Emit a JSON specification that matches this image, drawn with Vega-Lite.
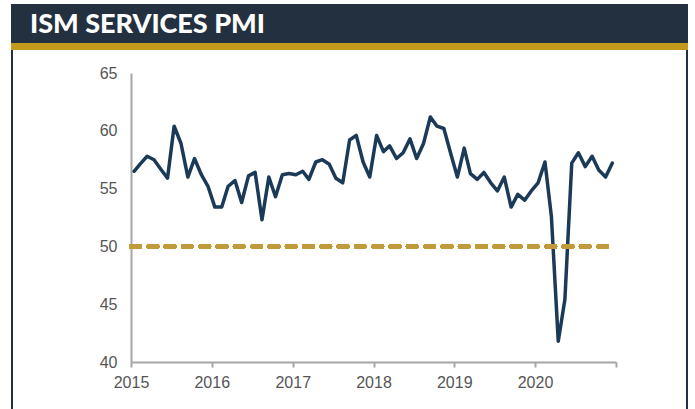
{
  "$schema": "https://vega.github.io/schema/vega-lite/v6.json",
  "padding": {"left": 11, "top": 4, "right": 0, "bottom": 0},
  "background": "white",
  "spacing": 0,
  "config": {"view": {"stroke": null}, "concat": {"spacing": 0}, "font": "Liberation Sans"},
  "vconcat": [
    {
      "data": {"values": [{"label": "ISM SERVICES PMI", "pos": 0}]},
      "mark": {"type": "text", "align": "left", "baseline": "middle", "dx": 19, "dy": 1, "color": "#ffffff", "font": "Lato", "fontSize": 27, "fontWeight": 900},
      "encoding": {
        "text": {"field": "label"},
        "x": {"field": "pos", "type": "quantitative", "scale": {"domain": [0, 1]}, "axis": null}
      },
      "width": 677,
      "height": 39,
      "view": {"fill": "#223040", "stroke": null}
    },
    {
      "data": {"values": []},
      "mark": "point",
      "width": 677,
      "height": 7,
      "view": {"fill": "#c49a1c", "stroke": null}
    },
    {
      "spacing": 0,
      "hconcat": [
        {"data": {"values": []}, "mark": "point", "width": 2, "height": 359, "view": {"fill": "#223040", "stroke": null}},
        {"data": {"values": []}, "mark": "point", "width": 86, "height": 1},
        {
          "spacing": 0,
          "vconcat": [
            {"data": {"values": []}, "mark": "point", "width": 1, "height": 15},
            {
              "width": 485,
              "height": 289,
              "data": {"values": [
                {"date": "2015-01-15", "pmi": 56.5}, {"date": "2015-02-15", "pmi": 57.2}, {"date": "2015-03-15", "pmi": 57.8}, {"date": "2015-04-15", "pmi": 57.5},
                {"date": "2015-05-15", "pmi": 56.7}, {"date": "2015-06-15", "pmi": 55.9}, {"date": "2015-07-15", "pmi": 60.4}, {"date": "2015-08-15", "pmi": 58.9},
                {"date": "2015-09-15", "pmi": 56.0}, {"date": "2015-10-15", "pmi": 57.6}, {"date": "2015-11-15", "pmi": 56.2}, {"date": "2015-12-15", "pmi": 55.2},
                {"date": "2016-01-15", "pmi": 53.4}, {"date": "2016-02-15", "pmi": 53.4}, {"date": "2016-03-15", "pmi": 55.2}, {"date": "2016-04-15", "pmi": 55.7},
                {"date": "2016-05-15", "pmi": 53.8}, {"date": "2016-06-15", "pmi": 56.1}, {"date": "2016-07-15", "pmi": 56.4}, {"date": "2016-08-15", "pmi": 52.3},
                {"date": "2016-09-15", "pmi": 56.0}, {"date": "2016-10-15", "pmi": 54.3}, {"date": "2016-11-15", "pmi": 56.2}, {"date": "2016-12-15", "pmi": 56.3},
                {"date": "2017-01-15", "pmi": 56.2}, {"date": "2017-02-15", "pmi": 56.5}, {"date": "2017-03-15", "pmi": 55.8}, {"date": "2017-04-15", "pmi": 57.3},
                {"date": "2017-05-15", "pmi": 57.5}, {"date": "2017-06-15", "pmi": 57.1}, {"date": "2017-07-15", "pmi": 55.9}, {"date": "2017-08-15", "pmi": 55.5},
                {"date": "2017-09-15", "pmi": 59.2}, {"date": "2017-10-15", "pmi": 59.6}, {"date": "2017-11-15", "pmi": 57.3}, {"date": "2017-12-15", "pmi": 56.0},
                {"date": "2018-01-15", "pmi": 59.6}, {"date": "2018-02-15", "pmi": 58.2}, {"date": "2018-03-15", "pmi": 58.7}, {"date": "2018-04-15", "pmi": 57.6},
                {"date": "2018-05-15", "pmi": 58.1}, {"date": "2018-06-15", "pmi": 59.3}, {"date": "2018-07-15", "pmi": 57.6}, {"date": "2018-08-15", "pmi": 58.9},
                {"date": "2018-09-15", "pmi": 61.2}, {"date": "2018-10-15", "pmi": 60.4}, {"date": "2018-11-15", "pmi": 60.2}, {"date": "2018-12-15", "pmi": 58.1},
                {"date": "2019-01-15", "pmi": 56.0}, {"date": "2019-02-15", "pmi": 58.5}, {"date": "2019-03-15", "pmi": 56.3}, {"date": "2019-04-15", "pmi": 55.8},
                {"date": "2019-05-15", "pmi": 56.4}, {"date": "2019-06-15", "pmi": 55.5}, {"date": "2019-07-15", "pmi": 54.8}, {"date": "2019-08-15", "pmi": 56.0},
                {"date": "2019-09-15", "pmi": 53.4}, {"date": "2019-10-15", "pmi": 54.5}, {"date": "2019-11-15", "pmi": 54.0}, {"date": "2019-12-15", "pmi": 54.8},
                {"date": "2020-01-15", "pmi": 55.5}, {"date": "2020-02-15", "pmi": 57.3}, {"date": "2020-03-15", "pmi": 52.6}, {"date": "2020-04-15", "pmi": 41.8},
                {"date": "2020-05-15", "pmi": 45.4}, {"date": "2020-06-15", "pmi": 57.2}, {"date": "2020-07-15", "pmi": 58.1}, {"date": "2020-08-15", "pmi": 56.9},
                {"date": "2020-09-15", "pmi": 57.8}, {"date": "2020-10-15", "pmi": 56.6}, {"date": "2020-11-15", "pmi": 56.0}, {"date": "2020-12-15", "pmi": 57.2}
              ]},
              "layer": [
                {
                  "mark": {"type": "line", "color": "#1b3a57", "strokeWidth": 3.5, "strokeJoin": "round", "strokeCap": "round"},
                  "encoding": {
                    "x": {
                      "field": "date", "type": "temporal",
                      "scale": {"domain": [{"year": 2015, "month": 1, "date": 1}, {"year": 2021, "month": 1, "date": 1}]},
                      "axis": {
                        "title": null, "grid": false, "format": "%Y",
                        "values": [{"year": 2015}, {"year": 2016}, {"year": 2017}, {"year": 2018}, {"year": 2019}, {"year": 2020}, {"year": 2021}],
                        "labelExpr": "year(datum.value) >= 2021 ? '' : timeFormat(datum.value, '%Y')",
                        "domainColor": "#a6a6a6", "domainWidth": 2, "tickColor": "#a6a6a6", "tickWidth": 2, "tickSize": 5,
                        "labelFontSize": 16, "labelColor": "#555555", "labelPadding": 7, "labelFlush": false, "labelOverlap": false
                      }
                    },
                    "y": {
                      "field": "pmi", "type": "quantitative",
                      "scale": {"domain": [40, 65], "nice": false, "zero": false},
                      "axis": {
                        "title": null, "grid": false, "ticks": false, "values": [40, 45, 50, 55, 60, 65],
                        "domainColor": "#a6a6a6", "domainWidth": 2,
                        "labelFontSize": 16, "labelColor": "#555555", "labelPadding": 14
                      }
                    }
                  }
                },
                {
                  "mark": {"type": "rule", "color": "#c19a3b", "strokeWidth": 4, "strokeDash": [9, 8.3], "strokeCap": "round"},
                  "encoding": {
                    "y": {"datum": 50, "type": "quantitative"},
                    "x": {"datum": {"year": 2015, "month": 1, "date": 1}, "type": "temporal"},
                    "x2": {"datum": {"year": 2020, "month": 11, "date": 22}}
                  }
                }
              ]
            }
          ]
        },
        {"data": {"values": []}, "mark": "point", "width": 69, "height": 1},
        {"data": {"values": []}, "mark": "point", "width": 2, "height": 359, "view": {"fill": "#223040", "stroke": null}}
      ]
    }
  ]
}
